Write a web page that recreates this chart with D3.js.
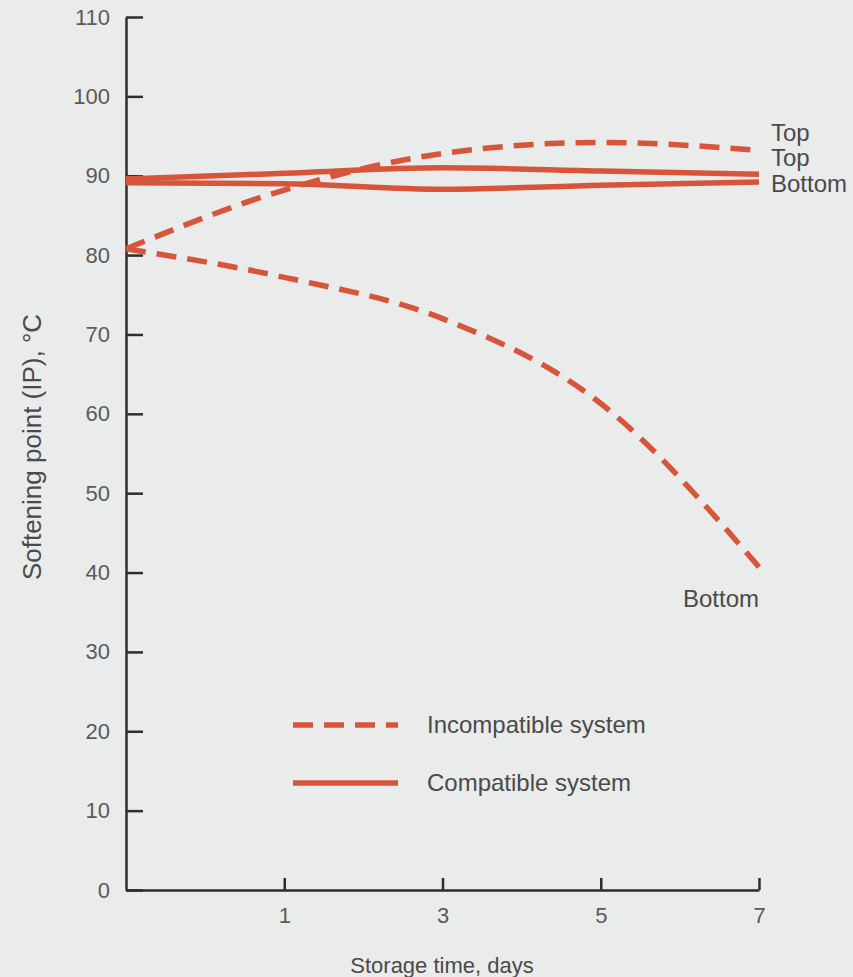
<!DOCTYPE html>
<html>
<head>
<meta charset="utf-8">
<script src="https://cdn.jsdelivr.net/npm/d3@7"></script>
<style>
  body { margin: 0; background: #eaebeb; }
  text { font-family: "Liberation Sans", Arial, sans-serif; fill: #4a4a4a; }
</style>
</head>
<body>
<svg id="chart" width="853" height="977"></svg>
<script>
'use strict'

// storage time (days) - plotted at equal spacing like the original
var days = ['0', '1', '3', '5', '7'];
var xTicks = ['1', '3', '5', '7'];
var yTicks = [0, 10, 20, 30, 40, 50, 60, 70, 80, 90, 100, 110];

// softening point, degC
var incompatibleTop = [80.8, 88.2, 92.8, 94.2, 93.2];
var incompatibleBottom = [80.8, 77.2, 72.0, 61.3, 40.7];
var compatibleTop = [89.6, 90.3, 91.0, 90.6, 90.2];
var compatibleBottom = [89.1, 89.0, 88.3, 88.8, 89.2];

var seriesNames = ['Incompatible system', 'Compatible system'];

var red = '#d7553a';
var axisColor = '#2e2e2e';

var svg = d3.select('#chart');

svg.append('rect').attr('width', 853).attr('height', 977).attr('fill', '#eaebeb');

var x = d3.scalePoint().domain(days).range([126, 759]);
var y = d3.scaleLinear().domain([0, 110]).range([890, 17]);

// axes
var yAxis = svg.append('g')
	.attr('transform', 'translate(126,0)')
	.call(d3.axisLeft(y).tickValues(yTicks).tickSize(-17).tickSizeOuter(0).tickPadding(16));
yAxis.select('.domain').attr('stroke', axisColor).attr('stroke-width', 2.5);
yAxis.selectAll('.tick line').attr('stroke', axisColor).attr('stroke-width', 2.5);
yAxis.selectAll('.tick text').style('font-size', '22px').style('fill', '#5a5a5a');

var xAxis = svg.append('g')
	.attr('transform', 'translate(0,890)')
	.call(d3.axisBottom(x).tickValues(xTicks).tickSize(-12).tickSizeOuter(0).tickPadding(17));
xAxis.select('.domain').attr('stroke', axisColor).attr('stroke-width', 2.5);
xAxis.selectAll('.tick line').attr('stroke', axisColor).attr('stroke-width', 2.5);
xAxis.selectAll('.tick text').style('font-size', '22px').style('fill', '#5a5a5a');

// axis titles
svg.append('text')
	.attr('x', 442)
	.attr('y', 973)
	.attr('text-anchor', 'middle')
	.style('font-size', '22px')
	.text('Storage time, days');

svg.append('text')
	.attr('transform', 'translate(41,447) rotate(-90)')
	.attr('text-anchor', 'middle')
	.style('font-size', '26px')
	.text('Softening point (IP), \u00b0C');

// curves
var line = d3.line()
	.x(function(d, i){ return x(days[i]); })
	.y(function(d){ return y(d); })
	.curve(d3.curveMonotoneX);

function drawSeries(values, dashed){
	svg.append('path')
		.datum(values)
		.attr('d', line)
		.attr('fill', 'none')
		.attr('stroke', red)
		.attr('stroke-width', 5.5)
		.attr('stroke-dasharray', dashed ? '20,11' : null);
}

drawSeries(compatibleTop, false);
drawSeries(compatibleBottom, false);
drawSeries(incompatibleTop, true);
drawSeries(incompatibleBottom, true);

// end labels
var endLabels = [
	{text: 'Top', x: 771, y: 141},
	{text: 'Top', x: 771, y: 166},
	{text: 'Bottom', x: 771, y: 192},
	{text: 'Bottom', x: 683, y: 607}
];
svg.selectAll('.endLabel')
	.data(endLabels)
	.enter().append('text')
	.attr('class', 'endLabel')
	.attr('x', function(d){ return d.x; })
	.attr('y', function(d){ return d.y; })
	.style('font-size', '24px')
	.text(function(d){ return d.text; });

// legend
var legend = svg.append('g').attr('transform', 'translate(293,725)');
seriesNames.forEach(function(name, i){
	var row = legend.append('g').attr('transform', 'translate(0,' + (i*58) + ')');
	row.append('line')
		.attr('x1', 0).attr('x2', 105)
		.attr('y1', 0).attr('y2', 0)
		.attr('stroke', red)
		.attr('stroke-width', 5.5)
		.attr('stroke-dasharray', i == 0 ? '20,11' : null);
	row.append('text')
		.attr('x', 134)
		.attr('y', 0)
		.attr('dy', '0.35em')
		.style('font-size', '24px')
		.text(name);
});
</script>
</body>
</html>
